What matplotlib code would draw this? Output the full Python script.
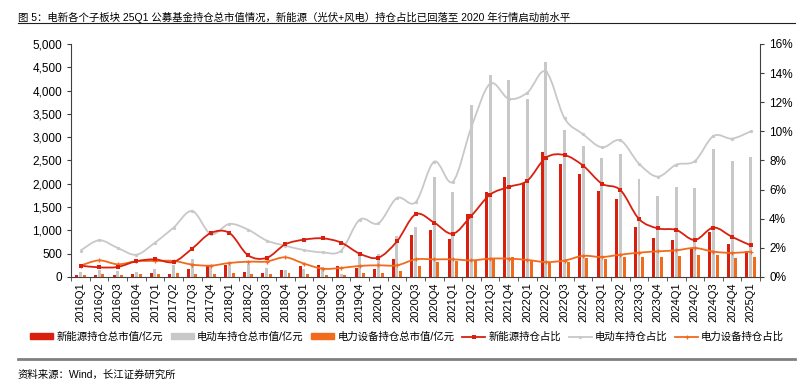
import matplotlib
matplotlib.use("Agg")
import matplotlib.pyplot as plt
import numpy as np
from matplotlib.path import Path
from matplotlib.patches import PathPatch, Patch
from matplotlib.lines import Line2D
from matplotlib.ticker import FuncFormatter, MultipleLocator

plt.rcParams['font.family'] = ['Liberation Sans', 'Noto Sans CJK SC', 'DejaVu Sans']

quarters = [f"{y}Q{q}" for y in range(2016, 2025) for q in range(1, 5)] + ["2025Q1"]

# 持仓总市值 / 亿元
xny_val = [43, 40, 40, 65, 80, 65, 165, 243, 265, 115, 93, 150, 235, 257, 243, 186,
           172, 393, 894, 1009, 823, 1352, 1831, 2139, 2017, 2675, 2425, 2203, 1845,
           1681, 1080, 844, 801, 608, 958, 715, 551]
ddc_val = [100, 150, 130, 100, 170, 260, 380, 243, 300, 270, 200, 150, 165, 207, 57, 508,
           486, 887, 1073, 2153, 1831, 3691, 4342, 4227, 3813, 4614, 3155, 2818, 2561,
           2640, 2110, 1745, 1938, 1917, 2747, 2489, 2568]
dlsb_val = [40, 60, 40, 65, 65, 80, 74, 70, 75, 70, 70, 85, 70, 43, 43, 79,
            79, 129, 236, 329, 336, 350, 400, 429, 365, 315, 315, 415, 393,
            429, 436, 429, 450, 472, 479, 415, 429]

# 持仓占比 / %
xny_pct = [0.78, 0.66, 0.69, 1.08, 1.21, 1.03, 1.95, 3.02, 3.02, 1.49, 1.31, 2.24, 2.56,
           2.65, 2.36, 1.60, 1.33, 2.45, 4.30, 3.73, 2.97, 4.21, 5.65, 6.18, 6.61, 8.19,
           8.37, 7.64, 6.41, 5.97, 3.98, 3.34, 3.23, 2.54, 3.39, 2.75, 2.17]
ddc_pct = [1.81, 2.52, 1.99, 1.53, 2.36, 3.39, 4.53, 2.95, 3.64, 3.25, 2.50, 2.15, 1.85,
           1.69, 1.81, 3.94, 3.68, 5.42, 5.13, 7.92, 6.54, 10.30, 13.27, 12.24, 12.65,
           14.10, 10.90, 9.80, 8.90, 9.38, 7.78, 6.89, 7.71, 7.96, 9.68, 9.50, 10.00]
dlsb_pct = [0.78, 1.14, 0.87, 1.08, 1.10, 1.10, 0.85, 0.78, 0.96, 1.05, 1.06, 1.35, 0.92,
            0.57, 0.62, 0.76, 0.80, 0.80, 1.21, 1.21, 1.21, 1.14, 1.26, 1.26, 1.17, 1.02,
            1.13, 1.45, 1.37, 1.53, 1.67, 1.76, 1.83, 1.99, 1.74, 1.65, 1.74]

red = '#D9200F'
gray = '#C8C8C8'
orange = '#F26B1D'


def smooth_path(xs, ys):
    # bezier curve through the points, like excel's smoothed line
    pts = np.column_stack([xs, ys]).astype(float)
    verts = [pts[0]]
    codes = [Path.MOVETO]
    n = len(pts)
    for i in range(n - 1):
        p0 = pts[max(i - 1, 0)]
        p1 = pts[i]
        p2 = pts[i + 1]
        p3 = pts[min(i + 2, n - 1)]
        verts += [p1 + (p2 - p0) / 6, p2 - (p3 - p1) / 6, p2]
        codes += [Path.CURVE4] * 3
    return Path(verts, codes)


fig = plt.figure(figsize=(8, 3.89), dpi=100)
ax = fig.add_axes([0.089, 0.288, 0.861, 0.599])
ax2 = ax.twinx()

x = np.arange(len(quarters))
w = 0.16
ax.bar(x - 0.2, xny_val, w, color=red, zorder=2)
ax.bar(x, ddc_val, w, color=gray, zorder=2)
ax.bar(x + 0.2, dlsb_val, w, color=orange, zorder=2)

for vals, col, mk, ms, mw in [(ddc_pct, gray, 'o', 2.4, 0), (dlsb_pct, orange, '+', 3.5, 0.9),
                              (xny_pct, red, 's', 2.5, 0)]:
    ax2.add_patch(PathPatch(smooth_path(x, vals), facecolor='none', edgecolor=col, lw=1.3))
    ax2.plot(x, vals, linestyle='none', marker=mk, color=col, markersize=ms, mew=mw)

ax.set_xlim(-0.5, len(quarters) - 0.5)
ax.set_ylim(0, 5000)
ax2.set_ylim(0, 16)
ax.yaxis.set_major_locator(MultipleLocator(500))
ax.yaxis.set_major_formatter(FuncFormatter(lambda v, p: f"{int(v):,}"))
ax2.yaxis.set_major_locator(MultipleLocator(2))
ax2.yaxis.set_major_formatter(FuncFormatter(lambda v, p: f"{int(v)}%"))

ax.set_xticks(x)
ax.set_xticklabels(quarters, rotation=90, fontsize=8)
ax.set_xticks(np.arange(-0.5, len(quarters)), minor=True)
ax.tick_params(axis='x', which='major', length=0, pad=4)
ax.tick_params(axis='x', which='minor', length=3, color='#404040')
ax.tick_params(axis='y', length=3, labelsize=8.5, color='#404040')
ax2.tick_params(axis='y', length=3, labelsize=8.5, color='#404040')

for a in (ax, ax2):
    a.spines['top'].set_visible(False)
ax.spines['right'].set_visible(False)
ax.spines['left'].set_color('#404040')
ax.spines['bottom'].set_color('#404040')
ax2.spines['left'].set_visible(False)
ax2.spines['bottom'].set_visible(False)
ax2.spines['right'].set_color('#404040')

handles = [
    Patch(color=red), Patch(color=gray), Patch(color=orange),
    Line2D([], [], color=red, marker='s', markersize=2.5, mew=0, lw=1.3),
    Line2D([], [], color=gray, marker='o', markersize=2.4, mew=0, lw=1.3),
    Line2D([], [], color=orange, marker='+', markersize=3.5, mew=0.9, lw=1.3),
]
labels = ['新能源持仓总市值/亿元', '电动车持仓总市值/亿元', '电力设备持仓总市值/亿元',
          '新能源持仓占比', '电动车持仓占比', '电力设备持仓占比']
fig.legend(handles, labels, loc='center', bbox_to_anchor=(0.509, 0.134), ncol=6,
           frameon=False, fontsize=7.5, handlelength=2.2, handleheight=0.55,
           handletextpad=0.3, columnspacing=0.75)

fig.text(0.022, 0.956, '图 5：电新各个子板块 25Q1 公募基金持仓总市值情况，新能源（光伏+风电）持仓占比已回落至 2020 年行情启动前水平',
         fontsize=7.5, va='center', ha='left')
fig.add_artist(Line2D([0.022, 0.994], [0.94, 0.94], color='#202020', lw=0.8))
fig.add_artist(Line2D([0.022, 0.994], [0.077, 0.077], color='#808080', lw=2))
fig.text(0.022, 0.036, '资料来源：Wind，长江证券研究所', fontsize=7.5, va='center', ha='left')

fig.savefig('out.png', dpi=100)
